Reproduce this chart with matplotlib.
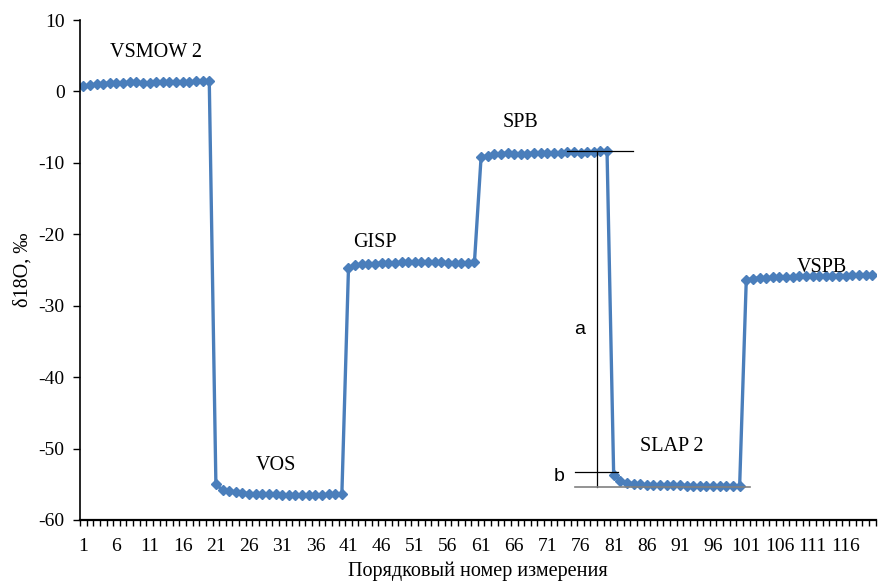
#!/usr/bin/env python3

import matplotlib.pyplot as plt
import numpy as np

# delta 18O of standards, 20 measurements each
vsmow2 = [0.7, 0.9, 1.0, 1.1, 1.2, 1.2, 1.2, 1.3, 1.3, 1.2,
          1.2, 1.3, 1.3, 1.3, 1.3, 1.3, 1.3, 1.4, 1.4, 1.4]
vos = [-55.0, -55.8, -56.0, -56.1, -56.2, -56.3, -56.3, -56.4, -56.4, -56.4,
       -56.5, -56.5, -56.5, -56.5, -56.5, -56.5, -56.5, -56.4, -56.4, -56.4]
gisp = [-24.7, -24.3, -24.2, -24.1, -24.1, -24.0, -24.0, -24.0, -23.9, -23.9,
        -23.9, -23.9, -23.9, -23.9, -23.9, -24.0, -24.0, -24.0, -24.0, -23.9]
spb = [-9.2, -9.0, -8.8, -8.7, -8.6, -8.7, -8.7, -8.7, -8.6, -8.6,
       -8.6, -8.6, -8.6, -8.5, -8.5, -8.6, -8.5, -8.5, -8.4, -8.4]
slap2 = [-53.7, -54.5, -54.8, -54.9, -55.0, -55.1, -55.1, -55.1, -55.1, -55.1,
         -55.1, -55.2, -55.2, -55.2, -55.2, -55.2, -55.2, -55.2, -55.3, -55.3]
vspb = [-26.4, -26.2, -26.1, -26.1, -26.0, -26.0, -26.0, -26.0, -25.9, -25.9,
        -25.9, -25.8, -25.8, -25.8, -25.8, -25.8, -25.7, -25.7, -25.7, -25.7]

names = ['VSMOW 2', 'VOS', 'GISP', 'SPB', 'SLAP 2', 'VSPB']
label_pos = [(12, 5.5), (30, -52.3), (45, -21.1), (67, -4.4), (89.8, -49.7), (112.4, -24.7)]

# levels used for the a / b markup
top_level = -8.35
b_level = -53.3
bottom_level = -55.4

values = vsmow2 + vos + gisp + spb + slap2 + vspb
n = np.arange(1, len(values) + 1)

plt.rcParams['font.family'] = ['Liberation Serif', 'DejaVu Serif']
plt.rcParams['axes.unicode_minus'] = False

fig = plt.figure(figsize=(8.81, 5.81), dpi=100)
ax = fig.add_axes([0.0908, 0.105, 0.903, 0.8605])

ax.plot(n, values, color='#4a7ebb', linewidth=2.4, marker='D',
        markersize=5.5, markerfacecolor='#4a7ebb', markeredgecolor='#4a7ebb')

for name, (x, y) in zip(names, label_pos):
  ax.text(x, y, name, fontsize=14.5, ha='center', va='center')

# markup of the step between SPB and SLAP 2
ax.plot([73.9, 83.9], [top_level, top_level], color='k', linewidth=0.9)
ax.plot([78.5, 78.5], [top_level, bottom_level], color='k', linewidth=0.9)
ax.plot([75.2, 81.6], [b_level, b_level], color='k', linewidth=0.9)
ax.plot([75.2, 101.6], [bottom_level, bottom_level], color='#808080', linewidth=1.2)
ax.text(75.9, -33.3, 'a', fontsize=14, family='Liberation Sans', ha='center', va='center')
ax.text(72.7, -53.9, 'b', fontsize=14, family='Liberation Sans', ha='center', va='center')

ax.set_xlim(0.5, 120.5)
ax.set_ylim(-60, 10)
ax.set_yticks(np.arange(-60, 11, 10))
ax.set_xticks(np.arange(1, 121, 5))
ax.set_xticks(np.arange(0.5, 121, 1), minor=True)
ax.tick_params(axis='x', which='major', length=0, labelsize=14, pad=13)
ax.tick_params(axis='x', which='minor', length=4, width=1, direction='out')
ax.tick_params(axis='y', length=5, width=1, direction='out', labelsize=14, pad=6)

ax.spines['top'].set_visible(False)
ax.spines['right'].set_visible(False)
ax.spines['bottom'].set_linewidth(1.6)
ax.spines['left'].set_linewidth(1.2)

ax.set_xlabel('Порядковый номер измерения', fontsize=14.5, labelpad=5)
ax.set_ylabel('δ18O, ‰', fontsize=14.5, labelpad=4)

fig.savefig('out.png', dpi=100)
